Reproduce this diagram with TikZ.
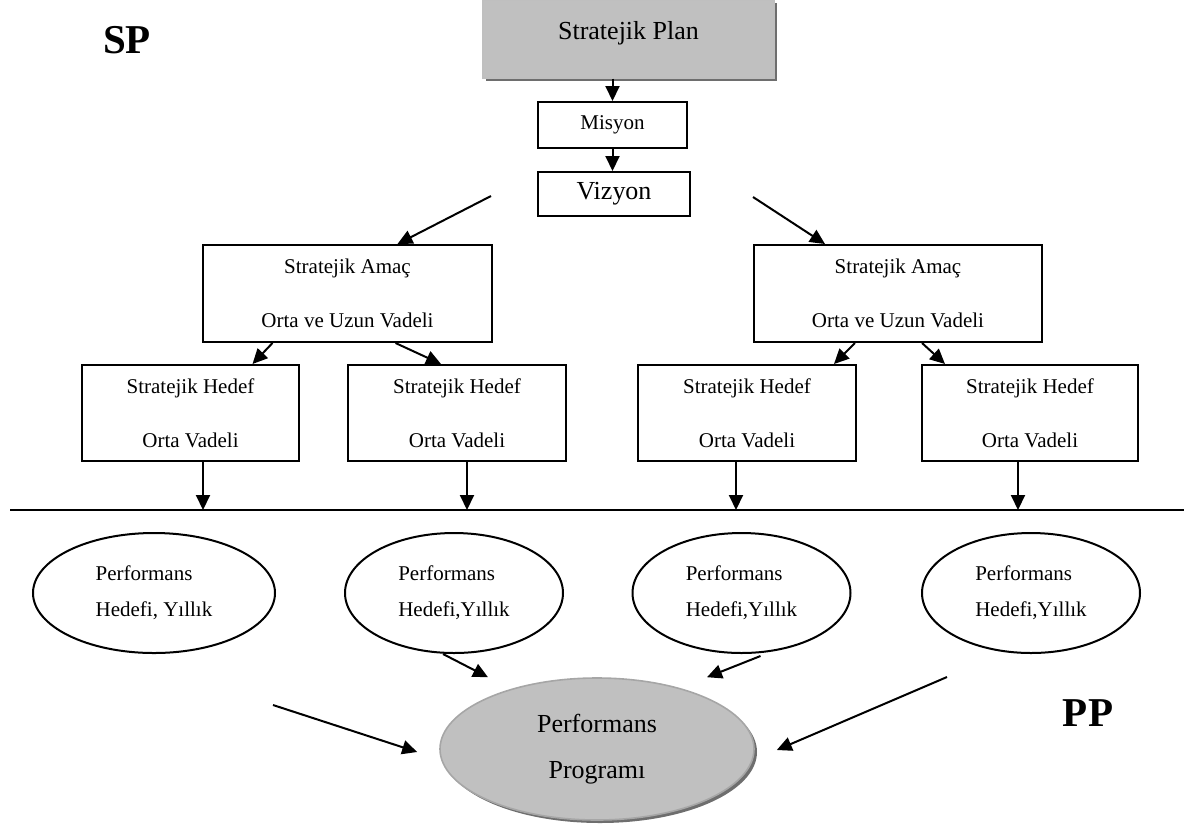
\documentclass[tikz,border=0pt]{standalone}
\usepackage{fontspec}
\setmainfont{Liberation Serif}
\usepackage{tikz}
\usetikzlibrary{positioning,arrows.meta,calc,shapes.geometric,shadows}
\definecolor{pGray}{RGB}{192,192,192}
\definecolor{pShadow}{RGB}{110,110,110}
\tikzset{
  box/.style={rectangle, draw=black, line width=1pt, fill=white, align=center,
              inner sep=0pt, font=\fontsize{10.5}{27}\selectfont},
  gbox/.style={rectangle, draw=black!25, line width=0.6pt, fill=pGray,
               inner sep=0pt, align=center, font=\fontsize{13}{15}\selectfont,
               drop shadow={shadow xshift=1.5pt, shadow yshift=-1.5pt,
                            fill=pShadow, opacity=1}},
  oval/.style={ellipse, draw=black, line width=1pt, fill=white, inner sep=0pt,
               align=left, minimum width=109pt, minimum height=60pt,
               font=\fontsize{10.5}{18}\selectfont},
  big/.style={ellipse, draw=black!35, line width=0.8pt, fill=pGray, inner sep=0pt,
              align=center, minimum width=157pt, minimum height=71pt,
              font=\fontsize{13}{23}\selectfont,
              drop shadow={shadow xshift=1.5pt, shadow yshift=-1.5pt,
                           fill=pShadow, opacity=1}},
  flow/.style={-{Triangle[length=7.5pt, width=7pt]}, draw=black, line width=1pt},
  tag/.style={font=\fontsize{20.5}{22}\selectfont\bfseries, inner sep=0pt},
}

\begin{document}
\begin{tikzpicture}[x=0.5pt, y=-0.5pt]
  \useasboundingbox (0,0) rectangle (1184,826);
  % strategic plan part
  \node[gbox, minimum width=145.5pt, minimum height=39pt,
        text height=9pt, text depth=9pt] (plan) at (628.5,39) {Stratejik Plan};
  \node[box, minimum width=74.5pt, minimum height=23pt] (misyon) at (612.5,125) {Misyon};
  \node[box, minimum width=76pt, minimum height=22pt,
        font=\fontsize{13}{15}\selectfont] (vizyon) at (614,194) {Vizyon};
  \node[tag] (sp) at (127,40) {SP};

  \node[box, minimum width=144.5pt, minimum height=48.5pt] (amacL) at (347.5,293.5)
    {Stratejik Amaç\\Orta ve Uzun Vadeli};
  \node[box, minimum width=144pt, minimum height=48.5pt] (amacR) at (898,293.5)
    {Stratejik Amaç\\Orta ve Uzun Vadeli};

  \node[box, minimum width=108.5pt, minimum height=48pt] (hedefA) at (190.5,413)
    {Stratejik Hedef\\Orta Vadeli};
  \node[box, minimum width=109pt, minimum height=48pt] (hedefB) at (457,413)
    {Stratejik Hedef\\Orta Vadeli};
  \node[box, minimum width=109pt, minimum height=48pt] (hedefC) at (747,413)
    {Stratejik Hedef\\Orta Vadeli};
  \node[box, minimum width=108pt, minimum height=48pt] (hedefD) at (1030,413)
    {Stratejik Hedef\\Orta Vadeli};

  \draw[flow] (misyon.north |- plan.south) -- (misyon.north);
  \draw[flow] (misyon.south) -- (misyon.south |- vizyon.north);
  \coordinate (vizL) at (491,196);
  \coordinate (vizR) at (753,197);
  \draw[flow] (vizL) -- ($(amacL.north)+(50,0)$);
  \draw[flow] (vizR) -- ($(amacR.north)+(-73,0)$);
  \draw[flow] ($(amacL.south)+(-75,0)$) -- ($(hedefA.north)+(62,0)$);
  \draw[flow] ($(amacL.south)+(48,0)$) -- ($(hedefB.north)+(-16,0)$);
  \draw[flow] ($(amacR.south)+(-43,0)$) -- ($(hedefC.north)+(87,0)$);
  \draw[flow] ($(amacR.south)+(24,0)$) -- ($(hedefD.north)+(-85,0)$);

  % dividing line
  \coordinate (sepL) at (10,510);
  \coordinate (sepR) at (1184,510);
  \draw[line width=1pt] (sepL) -- (sepR);
  \foreach \h/\dx in {hedefA/12.5, hedefB/10, hedefC/-11, hedefD/-12}{
    \coordinate (down) at ($(\h.south)+(\dx,0)$);
    \draw[flow] (down) -- (down |- sepL);
  }

  % performance program part
  \node[oval, minimum width=121pt] (perfA) at (154,593) {Performans\\Hedefi, Yıllık};
  \node[oval] (perfB) at (454,593) {Performans\\Hedefi,Yıllık};
  \node[oval] (perfC) at (741.5,593) {Performans\\Hedefi,Yıllık};
  \node[oval] (perfD) at (1031,593) {Performans\\Hedefi,Yıllık};
  \node[big] (prog) at (597,749) {Performans\\Programı};
  \node[tag] (pp) at (1088,713) {PP};

  \coordinate (outL) at (273,705);
  \coordinate (outR) at (947,677);
  \draw[flow] ($(perfB.south)+(-11,0)$) -- ($(prog.north)+(-109,0)$);
  \draw[flow] ($(perfC.south)+(19,2)$) -- ($(prog.north)+(110,0)$);
  \draw[flow] (outL) -- ($(prog.west)+(-22,3)$);
  \draw[flow] (outR) -- ($(prog.east)+(22,1)$);
\end{tikzpicture}
\end{document}
